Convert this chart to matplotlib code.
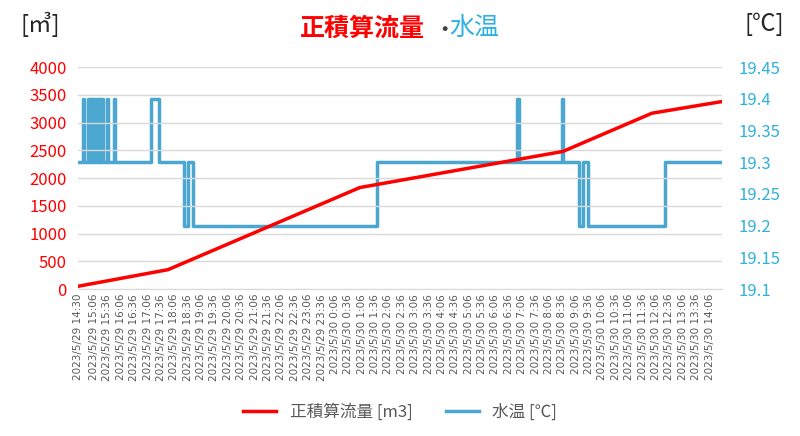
import matplotlib
matplotlib.use("Agg")
import matplotlib.pyplot as plt
import numpy as np

plt.rcParams['font.family'] = ['Noto Sans CJK JP', 'DejaVu Sans']

# minutes since 2023/5/29 14:30
flow_t = [0, 202, 632, 1087, 1287, 1444]
flow_v = [50, 350, 1830, 2480, 3170, 3380]

temp_t = [0, 12, 14, 22, 24, 26, 28, 30, 32, 34, 36, 38, 40, 42, 44, 46, 48, 50, 52, 54, 56, 58,
          66, 68, 80, 82, 164, 182, 238, 246, 256, 258, 670, 985, 988, 1085, 1088,
          1124, 1132, 1144, 1316, 1444]
temp_v = [19.3, 19.4, 19.3, 19.4, 19.3, 19.4, 19.3, 19.4, 19.3, 19.4, 19.3, 19.4, 19.3, 19.4, 19.3, 19.4, 19.3, 19.4, 19.3, 19.4, 19.3, 19.3,
          19.4, 19.3, 19.4, 19.3, 19.4, 19.3, 19.2, 19.3, 19.3, 19.2, 19.3, 19.4, 19.3, 19.4, 19.3,
          19.2, 19.3, 19.2, 19.3, 19.3]

tick_pos = [0] + list(range(36, 1417, 30))
def lab(m):
    tot = 14*60+30+m
    d = 29 + tot//1440
    tot %= 1440
    return f"2023/5/{d} {tot//60}:{tot%60:02d}"
tick_labels = [lab(m) for m in tick_pos]

fig = plt.figure(figsize=(8, 4.36), dpi=100)
ax = fig.add_axes([0.0975, 0.337, 0.805, 0.509])
ax2 = ax.twinx()
red = '#ff0000'; blue = '#4ba6d0'
ln1, = ax.plot(flow_t, flow_v, color=red, lw=2.5, label='正積算流量 [m3]')
ln2, = ax2.step(temp_t, temp_v, where='post', color=blue, lw=2.5, label='水温 [℃]')
ax.set_xlim(0, 1444)
ax.set_ylim(0, 4000)
ax.set_yticks(np.arange(0, 4001, 500))
ax2.set_ylim(19.1, 19.45)
ax2.set_yticks(np.round(np.arange(19.1, 19.451, 0.05), 2))
ax2.set_yticklabels([f"{v:g}" for v in np.round(np.arange(19.1, 19.451, 0.05), 2)])
ax.grid(axis='y', color='#d9d9d9', lw=1)
ax.set_xticks(tick_pos)
ax.set_xticklabels(tick_labels, rotation=90, fontsize=7.5, color='#595959', family='DejaVu Sans')
ax.tick_params(axis='y', colors=red, labelsize=12, length=0, pad=8)
ax2.tick_params(axis='y', colors='#2eb0e0', labelsize=12, length=0, pad=12)
ax.tick_params(axis='x', length=0)
for a in (ax, ax2):
    for s in a.spines.values():
        s.set_visible(False)
ax.spines['bottom'].set_visible(True)
ax.spines['bottom'].set_color('#d9d9d9')
ax.set_zorder(ax2.get_zorder()+1); ax.patch.set_visible(False)

fig.text(0.375, 0.935, '正積算流量', color=red, fontsize=18, ha='left', va='center', fontweight='bold')
fig.text(0.556, 0.93, '･', color='#404040', fontsize=18, ha='center', va='center', fontweight='bold')
fig.text(0.562, 0.935, '水温', color='#2eb0e0', fontsize=18, ha='left', va='center')
fig.text(0.05, 0.945, '[㎥]', fontsize=17, ha='center', va='center', color='#262626')
fig.text(0.955, 0.945, '[℃]', fontsize=17, ha='center', va='center', color='#262626')
fig.legend(handles=[ln1, ln2], loc='lower center', bbox_to_anchor=(0.5, 0.0), ncol=2,
           frameon=False, fontsize=12, labelcolor='#595959')
fig.savefig('out.png', dpi=100)
